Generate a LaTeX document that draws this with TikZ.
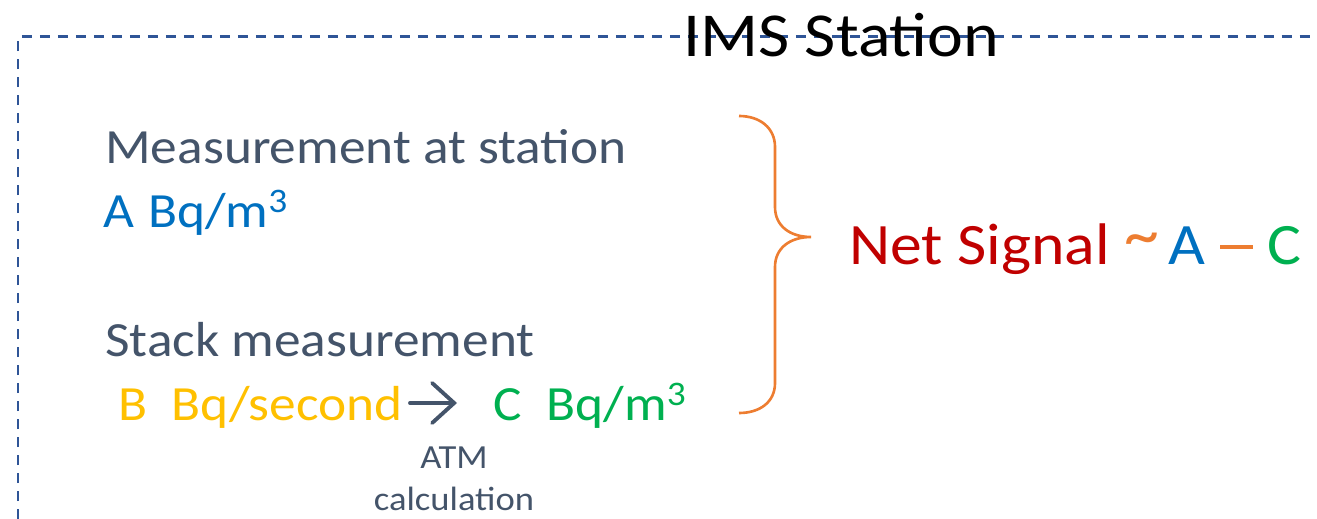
\documentclass[tikz,border=0pt]{standalone}
\usepackage{fontspec}
\setmainfont[FakeStretch=1.085]{Carlito}
\usepackage{tikz}
\usetikzlibrary{arrows.meta}

\definecolor{slategray}{HTML}{44546A}
\definecolor{boxblue}{HTML}{2F5597}
\definecolor{valblue}{HTML}{0070C0}
\definecolor{valgold}{HTML}{FFC000}
\definecolor{valgreen}{HTML}{00B050}
\definecolor{netred}{HTML}{C00000}
\definecolor{braceorange}{HTML}{ED7D31}

\begin{document}
\begin{tikzpicture}[x=0.02cm, y=-0.02cm,
    txt/.style={anchor=base west, inner sep=0pt, font=\fontsize{28}{34}\selectfont},
    small/.style={anchor=base, inner sep=0pt, font=\fontsize{19.2}{23}\selectfont, text=slategray}]
    \useasboundingbox (0,0) rectangle (1317,519);
    \def \gap {\hspace{0.5em}} % space between value and unit
    % station frame
    \draw[boxblue, line width=1.7pt, dash pattern=on 0.2cm off 0.16cm]
      (18,519) -- (18,37) -- (1317,37);
    \node[anchor=base west, inner sep=0pt, font=\fontsize{35.6}{43}\selectfont]
      (title) at (683,57) {IMS Station};
    % left column
    \node[txt, text=slategray] (meas) at (105,164) {Measurement at station};
    \node[txt, text=valblue] (aval) at (103,228) {A\hspace{0.28em}Bq/m\textsuperscript{3}};
    \node[txt, text=slategray] (stack) at (105,357) {Stack measurement};
    \node[txt, text=valgold] (bval) at (118,421) {B\gap Bq/second};
    \node[txt, text=valgreen] (cval) at (493,421) {C\gap Bq/m\textsuperscript{3}};
    \coordinate (arrs) at (410,403);
    \coordinate (arre) at (457,403);
    \draw[slategray, line width=2.2pt, line cap=round,
      -{Straight Barb[length=0.44cm, width=0.8cm, line cap=round]}]
      (arrs) -- (arre);
    \node[small] (atm) at (454,469) {ATM};
    \node[small] (calc) at (454,510) {calculation};
    % brace
    \coordinate (btop) at (739,116);
    \coordinate (btip) at (811,237);
    \coordinate (bbot) at (739,413);
    \draw[braceorange, line width=1.5pt]
      (btop) .. controls (760,116) and (775,128) .. (775,147)
      -- (775,207) .. controls (775,226) and (790,237) .. (btip)
      .. controls (790,237) and (775,248) .. (775,267)
      -- (775,383) .. controls (775,402) and (760,413) .. (bbot);
    % result
    \node[anchor=base west, inner sep=0pt, font=\fontsize{33.4}{40}\selectfont]
      (net) at (849,265) {\textcolor{netred}{Net Signal}
      \textcolor{braceorange}{\raisebox{0.12em}{\scalebox{1.1}[1.15]{\char`\~}}}\hspace{-0.08em}
      \textcolor{valblue}{A}
      \textcolor{braceorange}{\rule[0.27em]{0.56em}{0.068em}}
      \textcolor{valgreen}{C}};
\end{tikzpicture}
\end{document}
